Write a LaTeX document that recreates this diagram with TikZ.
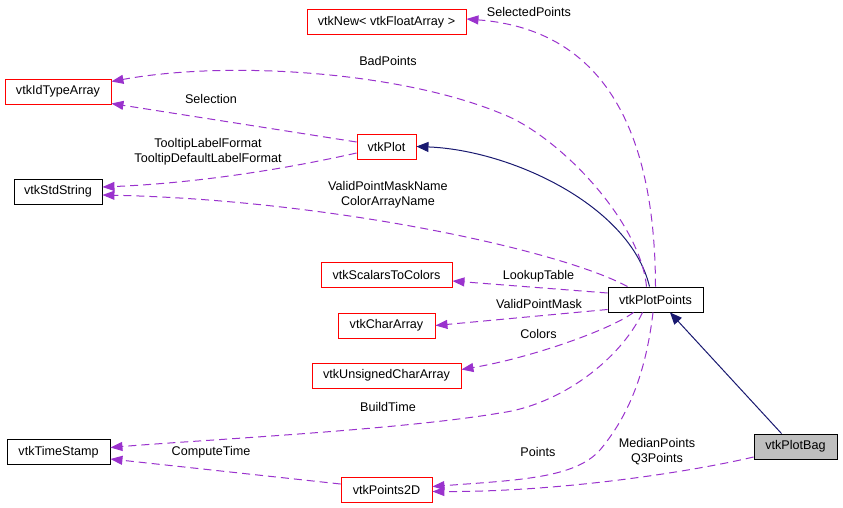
\documentclass[tikz,border=0pt]{standalone}
\usepackage{fontspec}
\setmainfont{Liberation Sans}
\usepackage{tikz}
\usetikzlibrary{arrows.meta}
\definecolor{usecol}{HTML}{9A32CD}
\definecolor{inhcol}{HTML}{191970}

\begin{document}
\begin{tikzpicture}[x=1pt,y=-1pt]
 	\tikzstyle{cls}=[rectangle, draw=red, line width=0.9pt, minimum height=25pt, inner sep=0pt, font=\fontsize{12.6}{15}\selectfont]
 	\tikzstyle{doc}=[cls, draw=black]
 	\tikzstyle{connect}=[-{Triangle[length=12pt,width=9pt]}, line width=1pt, usecol, dash pattern=on 8pt off 5pt]
 	\tikzstyle{inherit}=[-{Triangle[length=12pt,width=10pt]}, line width=1pt, inhcol]
 	\tikzstyle{lbl}=[align=center, inner sep=0pt, font=\fontsize{12.6}{15}\selectfont]
 	\useasboundingbox (0,0) rectangle (843,508);
 	% classes
 	\node[doc] (pp) at (655.5,299.5) [minimum width=95pt] {vtkPlotPoints};
 	\node[doc, fill=black!25] (bag) at (795.5,446.5) [minimum width=83pt] {vtkPlotBag};
 	\node[cls] (plot) at (386.5,146.5) [minimum width=59pt] {vtkPlot};
 	\node[cls] (newfa) at (386.5,22) [minimum width=159pt] {vtkNew< vtkFloatArray >};
 	\node[cls] (idta) at (58,91.5) [minimum width=106pt] {vtkIdTypeArray};
 	\node[doc] (stdstr) at (58,191.5) [minimum width=88pt] {vtkStdString};
 	\node[cls] (s2c) at (386.5,274.5) [minimum width=131pt] {vtkScalarsToColors};
 	\node[cls] (chararr) at (386.5,325.5) [minimum width=97pt] {vtkCharArray};
 	\node[cls] (uchar) at (386.5,375.5) [minimum width=149pt] {vtkUnsignedCharArray};
 	\node[doc] (tstamp) at (58.5,452) [minimum width=103pt] {vtkTimeStamp};
 	\node[cls] (pts) at (386.5,489.5) [minimum width=91pt] {vtkPoints2D};
 	% member names
 	\node[lbl] (l-sel) at (529,12) {SelectedPoints};
 	\node[lbl] (l-bad) at (388,61) {BadPoints};
 	\node[lbl] (l-selection) at (211,99) {Selection};
 	\node[lbl] (l-tip) at (208,151.5) {TooltipLabelFormat\\TooltipDefaultLabelFormat};
 	\node[lbl] (l-mask) at (388,194.5) {ValidPointMaskName\\ColorArrayName};
 	\node[lbl] (l-lut) at (538.5,276) {LookupTable};
 	\node[lbl] (l-vpm) at (539,304) {ValidPointMask};
 	\node[lbl] (l-col) at (538.5,334) {Colors};
 	\node[lbl] (l-build) at (388,407) {BuildTime};
 	\node[lbl] (l-comp) at (211,452) {ComputeTime};
 	\node[lbl] (l-pts) at (538,452) {Points};
 	\node[lbl] (l-med) at (657,451.5) {MedianPoints\\Q3Points};
 	% inheritance
 	\draw[inherit] ([xshift=-6pt]pp.north) .. controls (630,205) and (510,150) .. (plot.east);
 	\draw[inherit] ([xshift=-14pt]bag.north) -- ([xshift=14.5pt]pp.south);
 	% usage
 	\draw[connect] (pp.north) .. controls (655,140) and (610,30) .. ([yshift=3pt]newfa.east);
 	\draw[connect] ([xshift=-9pt]pp.north) .. controls (640,220) and (557,134) .. (500,113)
 		.. controls (400,72) and (230,60) .. ([yshift=10pt]idta.east);
 	\draw[connect] ([xshift=-28pt]pp.north) .. controls (560,250) and (330,200) .. ([yshift=-3.5pt]stdstr.east);
 	\draw[connect] ([yshift=6.5pt]pp.west) -- ([yshift=-6.5pt]s2c.east);
 	\draw[connect] ([yshift=-10pt]pp.west) -- (chararr.east);
 	\draw[connect] ([xshift=-22pt]pp.south) .. controls (610,330) and (530,358) .. ([yshift=6pt]uchar.east);
 	\draw[connect] ([xshift=-13pt]pp.south) .. controls (620,360) and (560,405) .. (500,413)
 		.. controls (400,430) and (200,440) .. ([yshift=4.5pt]tstamp.east);
 	\draw[connect] ([xshift=-2.5pt]pp.south) .. controls (645,380) and (625,420) .. (600,450)
 		.. controls (575,478) and (520,480) .. ([yshift=3pt]pts.east);
 	\draw[connect] ([yshift=-10.5pt]bag.west) .. controls (690,472) and (560,492) .. ([yshift=-2pt]pts.east);
 	\draw[connect] ([yshift=4.5pt]plot.west) -- ([yshift=-12pt]idta.east);
 	\draw[connect] ([yshift=-6.5pt]plot.west) .. controls (290,168) and (200,183) .. ([yshift=4.5pt]stdstr.east);
 	\draw[connect] ([yshift=5.5pt]pts.west) -- ([yshift=-7pt]tstamp.east);
\end{tikzpicture}
\end{document}
